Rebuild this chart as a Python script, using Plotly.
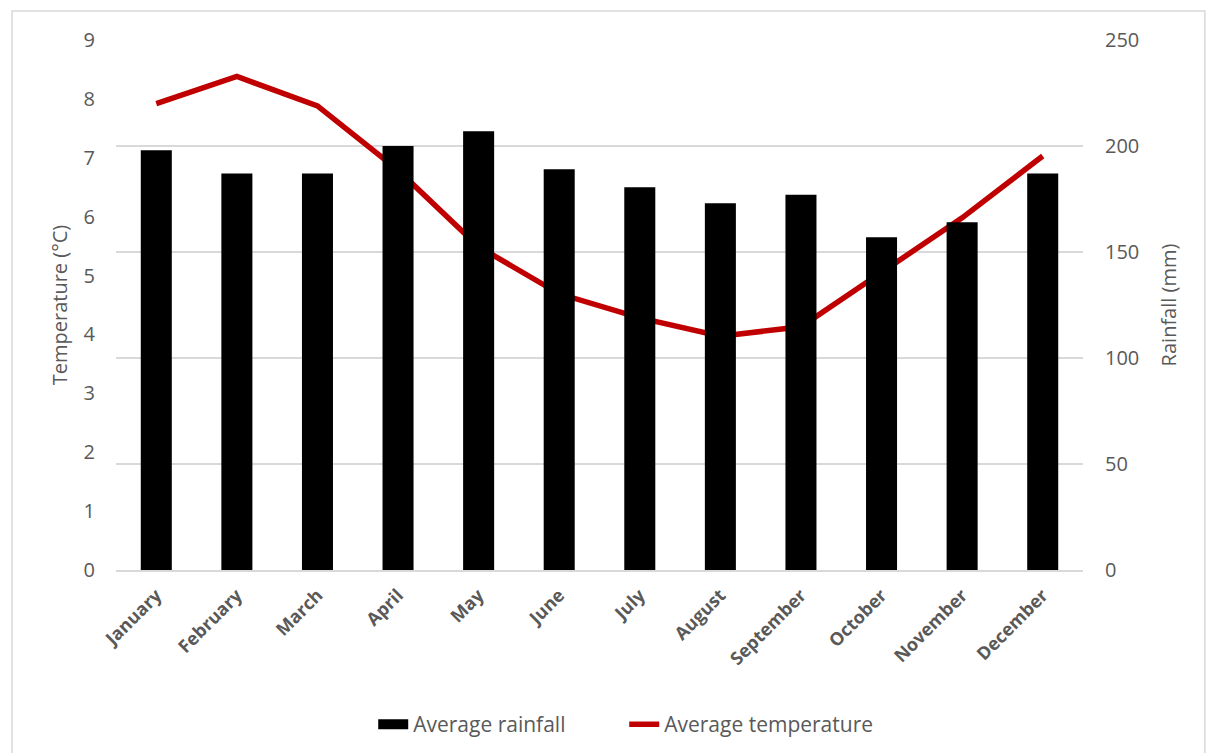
import plotly.graph_objects as go

months = ["January", "February", "March", "April", "May", "June", "July",
          "August", "September", "October", "November", "December"]
rainfall_mm = [198, 187, 187, 200, 207, 189, 180.5, 173, 177, 157, 164, 187]
temperature_c = [7.92, 8.38, 7.88, 6.79, 5.49, 4.69, 4.28, 3.97, 4.13, 5.06, 5.98, 7.03]

temp_ticks = [0, 1, 2, 3, 4, 5, 6, 7, 8, 9]
rain_ticks = [0, 50, 100, 150, 200, 250]

FONT = "'Open Sans', Lato, sans-serif"
GREY = "#595959"
GRID = "#d9d9d9"
RED = "#C00000"

fig = go.Figure()

# Rainfall columns on the secondary (right) axis
fig.add_trace(go.Bar(
    x=months, y=rainfall_mm, yaxis="y2", name="Average rainfall",
    marker=dict(color="black", line=dict(width=0)),
    showlegend=False,
))

# Legend entry for the columns, drawn as a thick bar swatch
fig.add_trace(go.Scatter(
    x=[None], y=[None], mode="lines", name="Average rainfall",
    line=dict(color="black", width=10),
))

# Temperature line on the primary (left) axis
fig.add_trace(go.Scatter(
    x=months, y=temperature_c, yaxis="y", mode="lines", name="Average temperature",
    line=dict(color=RED, width=5.5),
))

fig.update_layout(
    width=1206, height=753,
    margin=dict(l=116, r=123, t=40, b=183, autoexpand=False),
    paper_bgcolor="white", plot_bgcolor="white",
    font=dict(family=FONT, color=GREY, size=20),
    bargap=0.615,
    xaxis=dict(
        type="category", tickangle=-45, showgrid=False, automargin=False,
        tickfont=dict(size=18, color=GREY, family=FONT, weight="bold"),
        showline=True, linecolor=GRID, linewidth=1.5,
        ticks="outside", ticklen=6, tickcolor="rgba(0,0,0,0)",
    ),
    yaxis=dict(
        range=[0, 9], tickvals=temp_ticks, showgrid=False, zeroline=False,
        showline=False, ticks="", ticklabelstandoff=20, automargin=False,
        title=dict(text="Temperature (°C)", font=dict(size=20, color=GREY), standoff=10),
        tickfont=dict(size=20, color=GREY),
    ),
    yaxis2=dict(
        range=[0, 250], tickvals=rain_ticks, overlaying="y", side="right",
        showgrid=True, gridcolor=GRID, gridwidth=1.5, zeroline=False,
        showline=False, ticks="", ticklabelstandoff=21, automargin=False,
        title=dict(text="Rainfall (mm)", font=dict(size=20, color=GREY), standoff=23),
        tickfont=dict(size=20, color=GREY),
    ),
    legend=dict(
        orientation="h", x=0.266, xanchor="left", y=-0.253, yanchor="top",
        font=dict(size=21, color=GREY), entrywidth=206, entrywidthmode="pixels",
    ),
    shapes=[dict(
        type="rect", xref="paper", yref="paper",
        x0=-0.1075, x1=1.126, y0=-0.36, y1=1.0547,
        line=dict(color=GRID, width=1.5), fillcolor="rgba(0,0,0,0)", layer="below",
    )],
)

fig.write_html("out.html")
